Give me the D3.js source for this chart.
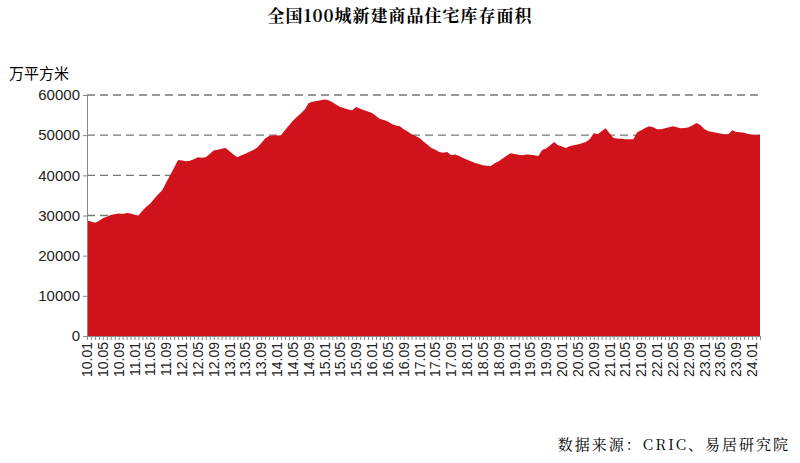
<!DOCTYPE html>
<html><head><meta charset="utf-8">
<script src="https://cdn.jsdelivr.net/npm/d3@7"></script>
<style>body{margin:0;background:#fff}</style>
</head><body><div id="chart"></div>
<script>
// monthly inventory, 2010.01 - 2024.03 (万平方米)
var startYear = 2010;
var inventory = [
  28800,28500,28200,28600,29300,29700,30100,30300,30500,30400,30600,30500,
  30200,30000,31200,32200,33000,34200,35300,36300,38200,40000,41900,43800,
  43700,43500,43600,44000,44500,44400,44500,45300,46200,46400,46600,46800,
  46000,45200,44500,45000,45400,45900,46300,46900,48000,49200,49800,50000,
  49900,50000,51200,52400,53600,54500,55400,56400,58000,58300,58500,58700,
  58900,58700,58200,57600,57000,56700,56400,56200,57000,56600,56200,55900,
  55500,54800,54000,53800,53400,52800,52400,52200,51500,50900,50200,49800,
  49300,48400,47600,46800,46400,45800,45600,45800,45000,45200,44800,44300,
  43900,43500,43100,42800,42500,42400,42300,43000,43500,44200,44900,45500,
  45300,45100,45000,45200,45100,45000,44800,46300,46700,47500,48300,47500,
  47200,46800,47300,47500,47700,48000,48300,49000,50500,50200,51000,51700,
  50500,49300,49200,49100,49000,49000,49000,50700,51200,51800,52200,52000,
  51500,51500,51700,52000,52200,52000,51700,51800,52000,52500,53000,52500,
  51500,51000,50800,50600,50400,50200,50200,51200,50800,50700,50600,50300,
  50100,50000,50200
];
var yTicks = [0,10000,20000,30000,40000,50000,60000];

var monthLabel = function(i){
  var y = (startYear + Math.floor(i/12)) % 100, m = i % 12 + 1;
  return (y<10?'0':'')+y+'.'+(m<10?'0':'')+m;
};

var svg = d3.select('#chart').append('svg').attr('width',800).attr('height',463);
var plotLeft = 87, plotRight = 762, plotTop = 95, plotBottom = 336;

var x = d3.scaleLinear().domain([0, inventory.length-1]).range([plotLeft, 760]);
var y = d3.scaleLinear().domain([0,60000]).range([plotBottom, plotTop]);

// dashed gridlines
svg.selectAll('line.grid').data(yTicks.slice(1)).enter().append('line')
  .attr('x1', plotLeft).attr('x2', plotRight)
  .attr('y1', d => y(d)).attr('y2', d => y(d))
  .attr('stroke', '#777').attr('stroke-width', 1.3).attr('stroke-dasharray', '8,5');

// area
var area = d3.area().x((d,i) => x(i)).y0(y(0)).y1(d => y(d));
svg.append('path').datum(inventory).attr('d', area).attr('fill', '#d0121b');

// y axis
var yAxis = svg.append('g').attr('transform', `translate(${plotLeft},0)`)
  .call(d3.axisLeft(y).tickValues(yTicks).tickSize(4).tickFormat(d3.format('d')));
yAxis.select('.domain').attr('stroke', '#888');
yAxis.selectAll('.tick line').attr('stroke', '#888');
yAxis.selectAll('text').attr('font-family', 'Liberation Sans, Arial').attr('font-size', 15).attr('fill', '#222');

// x axis
var idx = d3.range(inventory.length);
var xAxis = svg.append('g').attr('transform', `translate(0,${plotBottom})`)
  .call(d3.axisBottom(x).tickValues(idx).tickSize(4).tickFormat(''));
xAxis.select('.domain').attr('stroke', '#888');
xAxis.selectAll('.tick line').attr('stroke', '#888');
svg.selectAll('text.xl').data(idx.filter(i => i % 4 === 0)).enter().append('text')
  .attr('transform', i => `translate(${x(i)+5},${plotBottom+6}) rotate(-90)`)
  .attr('text-anchor', 'end')
  .attr('font-family', 'Liberation Sans, Arial').attr('font-size', 14).attr('fill', '#222')
  .text(monthLabel);

// titles
svg.append('text').attr('x', 400).attr('y', 22).attr('text-anchor', 'middle')
  .attr('font-family', 'Noto Serif CJK SC, Noto Sans CJK SC, serif').attr('font-weight', 'bold')
  .attr('font-size', 17).attr('letter-spacing', 1).text('全国100城新建商品住宅库存面积');
svg.append('text').attr('x', 9).attr('y', 79)
  .attr('font-family', 'Noto Sans CJK SC').attr('font-size', 15).text('万平方米');
svg.append('text').attr('x', 790).attr('y', 450).attr('text-anchor', 'end')
  .attr('font-family', 'Noto Serif CJK SC, Noto Sans CJK SC, serif')
  .attr('font-size', 15).attr('letter-spacing', 2).text('数据来源：CRIC、易居研究院');
</script></body></html>
